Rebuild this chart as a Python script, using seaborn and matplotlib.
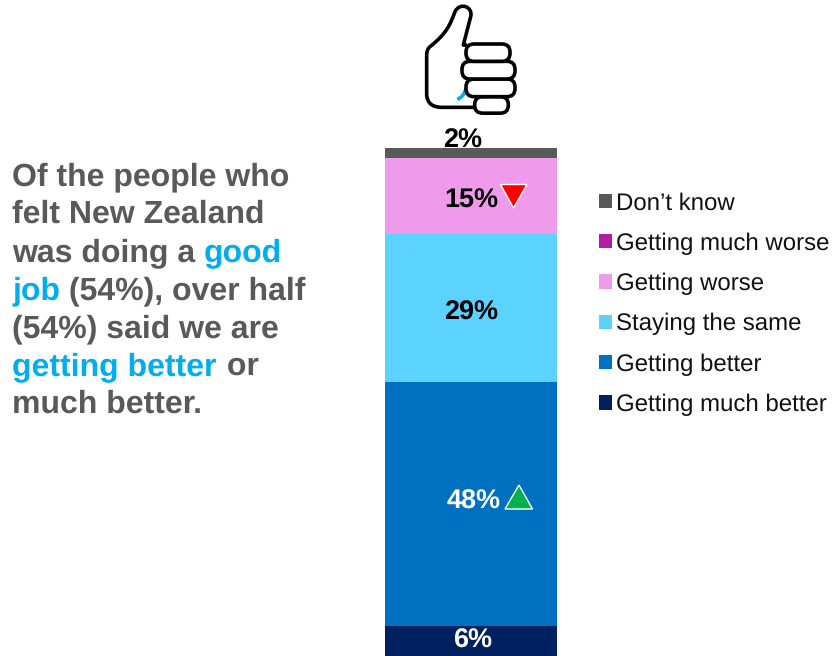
import matplotlib
matplotlib.use("Agg")
import matplotlib.pyplot as plt
import seaborn as sns
from matplotlib.patches import FancyBboxPatch, PathPatch, Polygon
from matplotlib.path import Path

sns.set_theme(style="white")
plt.rcParams["font.family"] = ["Liberation Sans", "DejaVu Sans"]
plt.rcParams["text.hinting"] = "no_hinting"
plt.rcParams["text.hinting_factor"] = 1

# ---------- data ----------
categories = ["Getting much better", "Getting better", "Staying the same",
              "Getting worse", "Getting much worse", "Don\u2019t know"]
values = [6, 48, 29, 15, 0, 2]
value_labels = ["6%", "48%", "29%", "15%", "", "2%"]

# ---------- styles ----------
bar_colors = ["#002060", "#0070C0", "#5BD2FF", "#EF9AEA", "#B01EA8", "#595959"]
label_colors = ["white", "white", "black", "black", "black", "black"]
label_px = [(473, 641), (473.5, 502), (471, 312.5), (471, 200.5), (0, 0), (463, 140.5)]
GREY, BLUE = "#595959", "#00AEEF"
W, H = 832, 656

fig = plt.figure(figsize=(W / 100, H / 100), dpi=100, facecolor="white")

# stacked bar, placed so that 100 % spans y=148..656 px
ax = fig.add_axes([385 / W, 0, 172 / W, 508 / H])
bottom = 0
for cat, val, col in zip(categories, values, bar_colors):
    sns.barplot(x=["all"], y=[val], bottom=bottom, color=col, saturation=1,
                width=1, ax=ax, label=cat, linewidth=0)
    bottom += val
ax.set_xlim(-0.5, 0.5)
ax.set_ylim(0, 100)
ax.axis("off")
handles, labels = ax.get_legend_handles_labels()
if ax.get_legend():
    ax.get_legend().remove()

# overlay in pixel coordinates
ov = fig.add_axes([0, 0, 1, 1], facecolor="none")
ov.set_xlim(0, W)
ov.set_ylim(H, 0)
ov.axis("off")

for lab, (x, y), c in zip(value_labels, label_px, label_colors):
    if lab:
        ov.text(x, y, lab, color=c, fontsize=19.3, fontweight="bold",
                ha="center", va="center")

# trend triangles
ov.add_patch(Polygon([(500.5, 184.5), (527, 184.5), (513.5, 208)], closed=True,
                     fc="#FF0000", ec="white", lw=1))
ov.add_patch(Polygon([(505, 509), (532.5, 509), (519, 485)], closed=True,
                     fc="#00B050", ec="white", lw=1))

# legend
leg = fig.legend(handles[::-1], labels[::-1], loc="upper left",
                 bbox_to_anchor=(598.5 / W, 1 - 192 / H), frameon=False,
                 fontsize=17.2, handlelength=0.55, handleheight=0.55,
                 handletextpad=0.2, labelspacing=0.75, borderpad=0, borderaxespad=0)
for t in leg.get_texts():
    t.set_color("#111111")

# rich text block
lines = [
    [("Of the people who", GREY)],
    [("felt New Zealand", GREY)],
    [("was doing a ", GREY), ("good", BLUE)],
    [("job", BLUE), (" (54%), over half", GREY)],
    [("(54%) said we are", GREY)],
    [("getting better", BLUE), (" or", GREY)],
    [("much better.", GREY)],
]
baselines = [185, 223, 261, 299, 337, 375, 413]
run_gap = [0, 0, 0, 0, 0, 4, 0]
renderer = fig.canvas.get_renderer()
fs = 23.3


def width(s):
    t = ov.text(0, 0, s + ".", fontsize=fs, fontweight="bold")
    w = t.get_window_extent(renderer).width
    t.set_text(".")
    w -= t.get_window_extent(renderer).width
    t.remove()
    return w


for runs, yb, gap in zip(lines, baselines, run_gap):
    prefix = ""
    for s, c in runs:
        x = 12 + width(prefix) + gap if prefix else 12
        ov.text(x, yb, s, color=c, fontsize=fs, fontweight="bold",
                ha="left", va="baseline")
        prefix += s


# thumbs-up icon (traced in 3x zoom coordinates)
def P(zx, zy):
    return (380 + zx / 3, zy / 3)


lw = 2.6
hand = [(Path.MOVETO, (250, 135)), (Path.LINETO, (272, 50)),
        (Path.CURVE4, (280, 20)), (Path.CURVE4, (240, 5)), (Path.CURVE4, (225, 35)),
        (Path.CURVE4, (210, 75)), (Path.CURVE4, (200, 100)), (Path.CURVE4, (150, 140)),
        (Path.CURVE3, (140, 148)), (Path.CURVE3, (140, 165)),
        (Path.LINETO, (140, 285)),
        (Path.CURVE3, (143, 322)), (Path.CURVE3, (185, 322)),
        (Path.LINETO, (290, 322))]
hand_path = Path([P(*p) for _, p in hand], [c for c, _ in hand])
ov.add_patch(PathPatch(hand_path, fc="none", ec="black", lw=lw, capstyle="round"))
ov.add_patch(PathPatch(Path([P(250, 135), P(262, 135)]), fc="none", ec="black", lw=lw))
arc = Path([P(232, 298), P(252, 290), P(258, 265)],
           [Path.MOVETO, Path.CURVE3, Path.CURVE3])
ov.add_patch(PathPatch(arc, fc="none", ec=BLUE, lw=lw))

fingers = [(284, 290, 385, 331), (258, 237, 405, 290), (246, 184, 405, 237), (258, 132, 390, 184)]
for x0, y0, x1, y1 in fingers:
    a, b = P(x0, y0), P(x1, y1)
    r = 8
    ov.add_patch(FancyBboxPatch((a[0] + r, a[1] + r), b[0] - a[0] - 2 * r,
                                max(b[1] - a[1] - 2 * r, 0.5),
                                boxstyle=f"round,pad={r},rounding_size={r}",
                                fc="white", ec="black", lw=lw))

fig.savefig("out.png", dpi=100, facecolor="white")
